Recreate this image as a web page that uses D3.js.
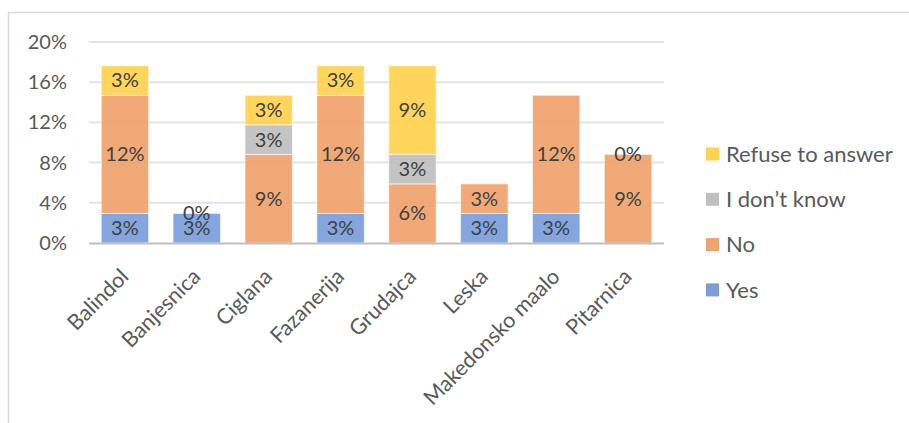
<!DOCTYPE html>
<html>
<head>
<meta charset="utf-8">
<script src="https://cdn.jsdelivr.net/npm/d3@7"></script>
<style>
  html, body { margin: 0; padding: 0; background: #fff; }
  svg { display: block; font-family: Lato, "Open Sans", sans-serif; }
</style>
</head>
<body>
<svg id="chart" width="909" height="423"></svg>
<script>
// Neighbourhoods surveyed
const categories = ["Balindol", "Banjesnica", "Ciglana", "Fazanerija", "Grudajca", "Leska", "Makedonsko maalo", "Pitarnica"];

// Share of all respondents (34 in total) per answer
const yes     = [0.0294, 0.0294, 0,      0.0294, 0,      0.0294, 0.0294, 0];
const no      = [0.1176, 0,      0.0882, 0.1176, 0.0588, 0.0294, 0.1176, 0.0882];
const dontKnow= [0,      0,      0.0294, 0,      0.0294, 0,      0,      0];
const refuse  = [0.0294, 0,      0.0294, 0.0294, 0.0882, 0,      0,      0];

// Zero-valued segments that still carry a "0%" label
const zeroLabels = [
  { cat: "Banjesnica", series: "refuse" },
  { cat: "Pitarnica", series: "refuse" }
];

const seriesKeys   = ["yes", "no", "dontKnow", "refuse"];
const seriesNames  = { yes: "Yes", no: "No", dontKnow: "I don\u2019t know", refuse: "Refuse to answer" };
const seriesColors = { yes: "#7b9edb", no: "#f0a46d", dontKnow: "#bfbfbf", refuse: "#ffd34f" };
const yTicks = [0, 0.04, 0.08, 0.12, 0.16, 0.20];

const rows = categories.map((c, i) => ({
  cat: c, yes: yes[i], no: no[i], dontKnow: dontKnow[i], refuse: refuse[i]
}));

const svg = d3.select("#chart");

// chart frame
svg.append("rect")
  .attr("x", 8.5).attr("y", 12.5)
  .attr("width", 920).attr("height", 430)
  .attr("fill", "none").attr("stroke", "#d9d9d9").attr("stroke-width", 1.5);

const plot = { left: 89, right: 664, top: 42, bottom: 243 };

const x = d3.scaleBand().domain(categories)
  .range([plot.left, plot.right]).paddingInner(0.34).paddingOuter(0.17);
const y = d3.scaleLinear().domain([0, 0.20]).range([plot.bottom, plot.top]);

// gridlines
svg.append("g")
  .selectAll("line").data(yTicks.filter(t => t > 0)).join("line")
  .attr("x1", plot.left).attr("x2", plot.right)
  .attr("y1", d => y(d)).attr("y2", d => y(d))
  .attr("stroke", "#e3e3e3").attr("stroke-width", 2);

// y axis labels
const yAxis = d3.axisLeft(y).tickValues(yTicks).tickFormat(d3.format(".0%")).tickSize(0).tickPadding(0);
svg.append("g")
  .attr("transform", `translate(${plot.left - 22},0)`)
  .call(yAxis)
  .call(g => g.select(".domain").remove())
  .call(g => g.selectAll("text")
    .attr("font-family", "Lato, sans-serif")
    .attr("font-size", 20).attr("fill", "#595959"));

// stacked bars
const stack = d3.stack().keys(seriesKeys);
const stacked = stack(rows);

const layers = svg.append("g").selectAll("g").data(stacked).join("g")
  .attr("fill", d => seriesColors[d.key]);

layers.selectAll("rect").data(d => d.filter(s => s[1] - s[0] > 0)).join("rect")
  .attr("x", d => x(d.data.cat))
  .attr("width", x.bandwidth())
  .attr("y", d => y(d[1]))
  .attr("height", d => y(d[0]) - y(d[1]))
  .attr("fill-opacity", 0.93)
  .attr("stroke", "#fff").attr("stroke-opacity", 0.6).attr("stroke-width", 1);

// x axis line
svg.append("line")
  .attr("x1", plot.left).attr("x2", plot.right)
  .attr("y1", plot.bottom + 0.5).attr("y2", plot.bottom + 0.5)
  .attr("stroke", "#bfbfbf").attr("stroke-width", 2);

// value labels
const fmt = d3.format(".0%");
const labelData = [];
stacked.forEach(layer => {
  layer.forEach(s => {
    const v = s[1] - s[0];
    const forced = zeroLabels.some(z => z.cat === s.data.cat && z.series === layer.key);
    if (v > 0 || forced) {
      labelData.push({ cat: s.data.cat, v, mid: (s[0] + s[1]) / 2 });
    }
  });
});
svg.append("g").selectAll("text").data(labelData).join("text")
  .attr("x", d => x(d.cat) + x.bandwidth() / 2)
  .attr("y", d => y(d.mid))
  .attr("dy", "0.35em")
  .attr("text-anchor", "middle")
  .attr("font-size", 20).attr("fill", "#404040")
  .text(d => fmt(d.v));

// category labels, rotated
svg.append("g").selectAll("text").data(categories).join("text")
  .attr("transform", d => `translate(${x(d) + x.bandwidth() / 2 + 5},${plot.bottom + 35}) rotate(-45)`)
  .attr("text-anchor", "end")
  .attr("font-size", 21.5).attr("fill", "#595959")
  .text(d => d);

// legend (top to bottom: Refuse, I don't know, No, Yes)
const legendKeys = seriesKeys.slice().reverse();
const legend = svg.append("g").selectAll("g").data(legendKeys).join("g")
  .attr("transform", (d, i) => `translate(706,${154 + i * 45.3})`);
legend.append("rect")
  .attr("x", 0).attr("y", -6.5).attr("width", 13).attr("height", 13)
  .attr("fill", d => seriesColors[d]);
legend.append("text")
  .attr("x", 20).attr("dy", "0.35em")
  .attr("font-size", 22).attr("fill", "#595959")
  .text(d => seriesNames[d]);
</script>
</body>
</html>
